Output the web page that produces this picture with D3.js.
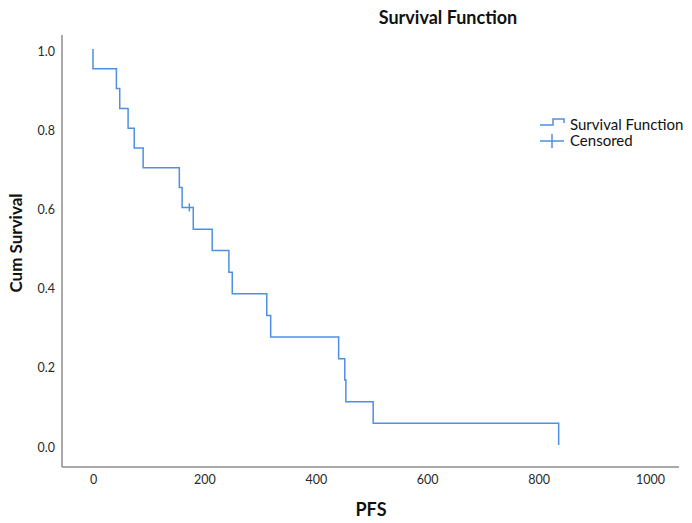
<!DOCTYPE html>
<html>
<head>
<meta charset="utf-8">
<script src="https://cdn.jsdelivr.net/npm/d3@7"></script>
<style>
  html, body { margin: 0; padding: 0; background: #fff; }
  svg { display: block; font-family: Lato, "Open Sans", sans-serif; }
</style>
</head>
<body>
<svg id="chart" width="692" height="523"></svg>
<script>
// Step times (event times) and the survival level after each step
const eventTimes = [0, 42, 48, 63, 74, 90, 155, 160, 180, 214, 244, 250, 312, 319, 441, 452, 454, 503, 836];
const survivalAfter = [0.95, 0.90, 0.85, 0.80, 0.75, 0.70, 0.65, 0.60, 0.545, 0.491, 0.436, 0.382, 0.327, 0.273, 0.218, 0.164, 0.109, 0.055, 0.0];
const censorTimes = [173];
const censorValues = [0.60];
const xTicks = [0, 200, 400, 600, 800, 1000];
const yTicks = [0.0, 0.2, 0.4, 0.6, 0.8, 1.0];
const legendLabels = ["Survival Function", "Censored"];

const color = "#4f8fe3";
const svg = d3.select("#chart");

const x = d3.scaleLinear().domain([0, 1000]).range([93, 650]);
const y = d3.scaleLinear().domain([0, 1]).range([445, 49]);

// axes lines (frame left & bottom)
svg.append("line").attr("x1", 62).attr("x2", 62).attr("y1", 35).attr("y2", 467)
  .attr("stroke", "#8c8c8c").attr("stroke-width", 1.5);
svg.append("line").attr("x1", 62).attr("x2", 679).attr("y1", 467).attr("y2", 467)
  .attr("stroke", "#8c8c8c").attr("stroke-width", 1.5);

// y axis (labels only)
const yAxis = d3.axisLeft(y).tickValues(yTicks).tickFormat(d3.format(".1f")).tickSize(0).tickPadding(0);
const gy = svg.append("g").attr("transform", "translate(55,2)").call(yAxis);
gy.select(".domain").remove();
gy.selectAll("text").attr("font-size", 12.5).attr("fill", "#2a2a2a").attr("font-family", "Lato, sans-serif");

// x axis (labels only)
const xAxis = d3.axisBottom(x).tickValues(xTicks).tickFormat(d3.format("d")).tickSize(0).tickPadding(0);
const gx = svg.append("g").attr("transform", "translate(0,475)").call(xAxis);
gx.select(".domain").remove();
gx.selectAll("text").attr("font-size", 12.5).attr("fill", "#2a2a2a").attr("font-family", "Lato, sans-serif");

// survival step line
const pts = [[0, 1]];
let prev = 1;
eventTimes.forEach((t, i) => {
  pts.push([t, prev]);
  pts.push([t, survivalAfter[i]]);
  prev = survivalAfter[i];
});
const line = d3.line().x(d => x(d[0])).y(d => y(d[1]));
svg.append("path").attr("d", line(pts)).attr("fill", "none")
  .attr("stroke", color).attr("stroke-width", 1.5);

// censor marks
censorTimes.forEach((t, i) => {
  svg.append("line").attr("x1", x(t)).attr("x2", x(t))
    .attr("y1", y(censorValues[i]) - 4).attr("y2", y(censorValues[i]) + 4)
    .attr("stroke", color).attr("stroke-width", 1.5);
});

// title and axis titles
svg.append("text").attr("x", 448).attr("y", 24).attr("text-anchor", "middle")
  .attr("font-weight", "bold").attr("font-size", 18).attr("fill", "#111")
  .text("Survival Function");
svg.append("text").attr("x", 371).attr("y", 516).attr("text-anchor", "middle")
  .attr("font-weight", "bold").attr("font-size", 18).attr("fill", "#111")
  .text("PFS");
svg.append("text").attr("transform", "translate(22,243) rotate(-90)").attr("text-anchor", "middle")
  .attr("font-weight", "bold").attr("font-size", 17).attr("fill", "#111")
  .text("Cum Survival");

// legend
const lg = svg.append("g");
lg.append("path").attr("d", "M540,125 H553 V119 H564 V123")
  .attr("fill", "none").attr("stroke", color).attr("stroke-width", 1.5);
lg.append("line").attr("x1", 540).attr("x2", 564).attr("y1", 141).attr("y2", 141)
  .attr("stroke", color).attr("stroke-width", 1.5);
lg.append("line").attr("x1", 552).attr("x2", 552).attr("y1", 134).attr("y2", 148)
  .attr("stroke", color).attr("stroke-width", 1.5);
lg.selectAll("text.leg").data(legendLabels).enter().append("text")
  .attr("class", "leg").attr("x", 570).attr("y", (d, i) => 129.5 + i * 16.5)
  .attr("font-size", 15).attr("fill", "#111").text(d => d);
</script>
</body>
</html>
